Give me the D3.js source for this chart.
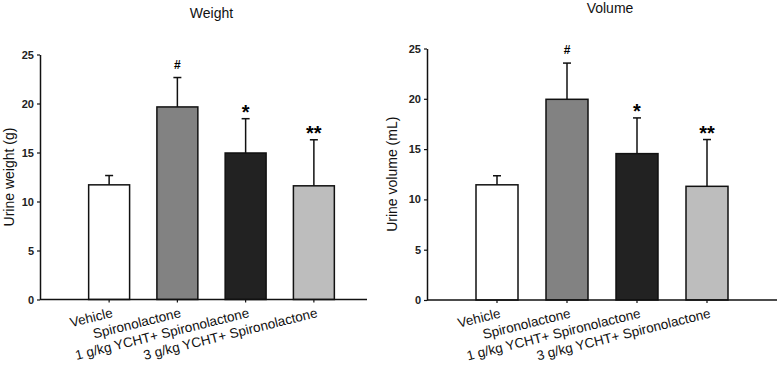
<!DOCTYPE html>
<html>
<head>
<meta charset="utf-8">
<script src="https://cdn.jsdelivr.net/npm/d3@7"></script>
<style>
  body { margin: 0; background: #fff; }
  svg { display: block; font-family: Arial, "Liberation Sans", sans-serif; }
</style>
</head>
<body>
<div id="chart"></div>
<script>
const groups = ["Vehicle", "Spironolactone", "1 g/kg YCHT+ Spironolactone", "3 g/kg YCHT+ Spironolactone"];
const fills = ["#ffffff", "#828282", "#222222", "#bdbdbd"];
const marks = ["", "#", "*", "**"];
const yTicks = [0, 5, 10, 15, 20, 25];

const weightMean = [11.7, 19.65, 14.95, 11.6];
const weightErr = [0.95, 3.0, 3.5, 4.7];
const volumeMean = [11.45, 19.95, 14.55, 11.3];
const volumeErr = [0.9, 3.6, 3.55, 4.65];

const svg = d3.select("#chart").append("svg")
    .attr("width", 778)
    .attr("height", 365);

const panels = [
  { title: "Weight", ylabel: "Urine weight (g)", mean: weightMean, err: weightErr,
    axisX: 40, xEnd: 367, yBottom: 299.5, yTop: 54.5, band: [75, 348], titleY: 18, labelX: 14 },
  { title: "Volume", ylabel: "Urine volume (mL)", mean: volumeMean, err: volumeErr,
    axisX: 427, xEnd: 777, yBottom: 300, yTop: 48.5, band: [462, 742], titleY: 13, labelX: 397 }
];

panels.forEach(p => {
  const x = d3.scaleBand().domain(groups).range(p.band).paddingInner(0.4).paddingOuter(0.2);
  const y = d3.scaleLinear().domain([0, 25]).range([p.yBottom, p.yTop]);
  const g = svg.append("g");

  // bars
  g.selectAll(".bar")
    .data(groups)
    .enter().append("rect")
    .attr("x", d => x(d))
    .attr("y", (d, i) => y(p.mean[i]))
    .attr("width", x.bandwidth())
    .attr("height", (d, i) => y(0) - y(p.mean[i]))
    .attr("fill", (d, i) => fills[i])
    .attr("stroke", "#111")
    .attr("stroke-width", 1.5);

  // upper error bars
  const cx = d => x(d) + x.bandwidth() / 2;
  g.selectAll(".err")
    .data(groups)
    .enter().append("line")
    .attr("x1", cx).attr("x2", cx)
    .attr("y1", (d, i) => y(p.mean[i]))
    .attr("y2", (d, i) => y(p.mean[i] + p.err[i]))
    .attr("stroke", "#111").attr("stroke-width", 1.5);
  g.selectAll(".cap")
    .data(groups)
    .enter().append("line")
    .attr("x1", d => cx(d) - 4).attr("x2", d => cx(d) + 4)
    .attr("y1", (d, i) => y(p.mean[i] + p.err[i]))
    .attr("y2", (d, i) => y(p.mean[i] + p.err[i]))
    .attr("stroke", "#111").attr("stroke-width", 1.5);

  // significance marks
  g.selectAll(".mark")
    .data(groups)
    .enter().append("text")
    .attr("x", cx)
    .attr("y", (d, i) => y(p.mean[i] + p.err[i]) - (i === 1 ? 9 : 0))
    .attr("text-anchor", "middle")
    .attr("font-weight", "bold")
    .attr("font-size", (d, i) => i === 1 ? "12px" : "20px")
    .text((d, i) => marks[i]);

  // y axis
  const yAxis = g.append("g")
    .attr("transform", `translate(${p.axisX},0)`)
    .call(d3.axisLeft(y).tickValues(yTicks).tickSize(3).tickPadding(3).tickSizeOuter(0));
  yAxis.select(".domain").attr("stroke", "#111").attr("stroke-width", 1.5);
  yAxis.selectAll(".tick line").attr("stroke", "#111").attr("stroke-width", 1.2);
  yAxis.selectAll(".tick text").attr("font-size", "11px").attr("font-weight", "bold").attr("fill", "#222")
    .attr("font-family", "Arial, 'Liberation Sans', sans-serif");

  // x axis
  const xAxis = g.append("g")
    .attr("transform", `translate(0,${p.yBottom})`)
    .call(d3.axisBottom(x).tickSize(3).tickSizeOuter(0));
  xAxis.select(".domain").remove();
  xAxis.selectAll(".tick line").attr("stroke", "#111").attr("stroke-width", 1.2);
  xAxis.selectAll(".tick text")
    .attr("font-size", "13.5px")
    .attr("fill", "#111")
    .attr("font-family", "Arial, 'Liberation Sans', sans-serif")
    .attr("text-anchor", "end")
    .attr("y", 0).attr("dy", "0.71em")
    .attr("transform", "translate(2,8) rotate(-14)");
  g.append("line")
    .attr("x1", p.axisX).attr("x2", p.xEnd)
    .attr("y1", p.yBottom).attr("y2", p.yBottom)
    .attr("stroke", "#111").attr("stroke-width", 1.5);

  // title and y label
  g.append("text")
    .attr("x", (p.axisX + p.xEnd) / 2 + 8)
    .attr("y", p.titleY)
    .attr("text-anchor", "middle")
    .attr("font-size", "14px")
    .attr("fill", "#111")
    .text(p.title);

  g.append("text")
    .attr("transform", `translate(${p.labelX},${(p.yBottom + p.yTop) / 2}) rotate(-90)`)
    .attr("text-anchor", "middle")
    .attr("font-size", "14px")
    .attr("fill", "#111")
    .text(p.ylabel);
});
</script>
</body>
</html>
